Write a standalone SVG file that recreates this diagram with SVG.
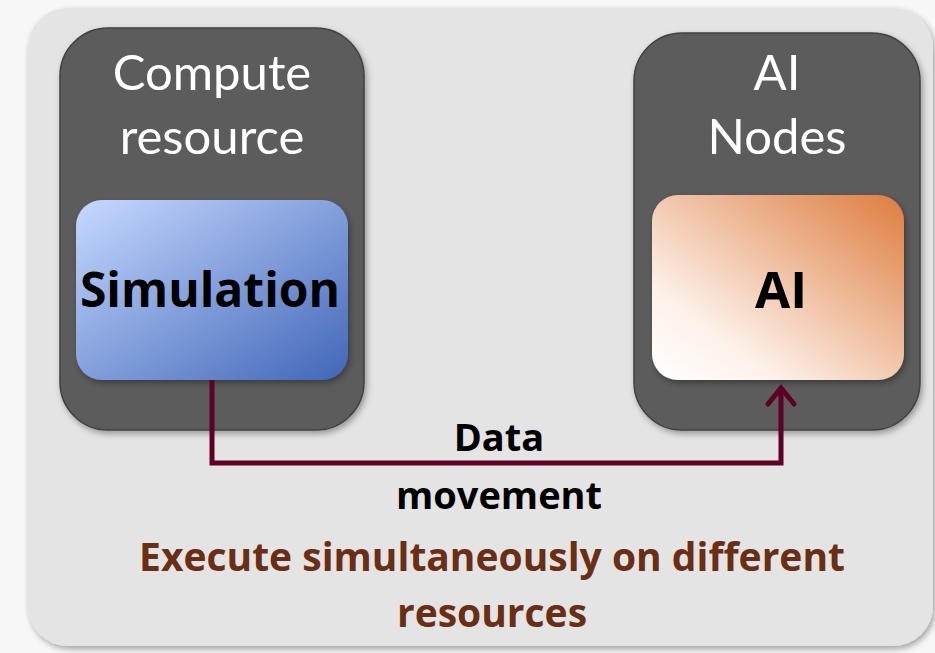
<svg xmlns="http://www.w3.org/2000/svg" width="935" height="653" viewBox="0 0 935 653">
<defs>
<linearGradient id="gSim" x1="0" y1="0" x2="1" y2="1">
<stop offset="0" stop-color="#c6d9ff"/>
<stop offset="1" stop-color="#4166b8"/>
</linearGradient>
<linearGradient id="gAI" x1="0" y1="1" x2="1" y2="0">
<stop offset="0" stop-color="#ffffff"/>
<stop offset="0.25" stop-color="#fdf1ea"/>
<stop offset="1" stop-color="#de7c3e"/>
</linearGradient>
<filter id="sh" x="-10%" y="-10%" width="125%" height="125%">
<feDropShadow dx="2" dy="3" stdDeviation="3" flood-color="#000" flood-opacity="0.35"/>
</filter>
</defs>
<style>
.outer{fill:#5b5b5b;stroke:#414141;stroke-width:1.5}
.title{font-family:Lato,"Open Sans",sans-serif;font-size:49px;fill:#ffffff;text-anchor:middle}
.inner{font-family:"Open Sans",Lato,sans-serif;font-weight:bold;font-size:48px;fill:#000;text-anchor:middle}
.lbl{font-family:"Open Sans",Lato,sans-serif;font-weight:bold;font-size:38px;fill:#000;text-anchor:middle}
.cap{font-family:"Open Sans",Lato,sans-serif;font-weight:bold;font-size:39px;fill:#6a2e14;text-anchor:middle}
.conn{fill:none;stroke:#5f0026;stroke-width:5;stroke-linejoin:miter}
</style>
<rect width="935" height="653" fill="#f7f7f7"/>
<g id="panel">
<rect x="28" y="8" width="905" height="638" rx="40" fill="#e4e4e4" filter="url(#sh)"/>
</g>
<g id="compute">
<rect class="outer" x="60" y="28" width="304" height="402" rx="48" filter="url(#sh)"/>
<text class="title" x="212" y="90">Compute</text>
<text class="title" x="212" y="154">resource</text>
</g>
<g id="ainodes">
<rect class="outer" x="634" y="33" width="286" height="397" rx="48" filter="url(#sh)"/>
<text class="title" x="777" y="90">AI</text>
<text class="title" x="777" y="154">Nodes</text>
</g>
<g id="simulation">
<rect x="76" y="200" width="272" height="180" rx="26" fill="url(#gSim)" filter="url(#sh)"/>
<text class="inner" x="210" y="307">Simulation</text>
</g>
<g id="ai">
<rect x="652" y="195" width="252" height="185" rx="26" fill="url(#gAI)" filter="url(#sh)"/>
<text class="inner" x="781" y="308" style="font-size:51px">AI</text>
</g>
<g id="connectors">
<path class="conn" d="M212 380 V463 H781 V388"/>
<path class="conn" d="M768 404 L781 388 L794 404" stroke-linecap="round" stroke-linejoin="round"/>
<text class="lbl" x="499" y="451">Data</text>
<text class="lbl" x="499" y="509">movement</text>
</g>
<g id="caption">
<text class="cap" x="492" y="571">Execute simultaneously on different</text>
<text class="cap" x="492" y="627">resources</text>
</g>
</svg>
